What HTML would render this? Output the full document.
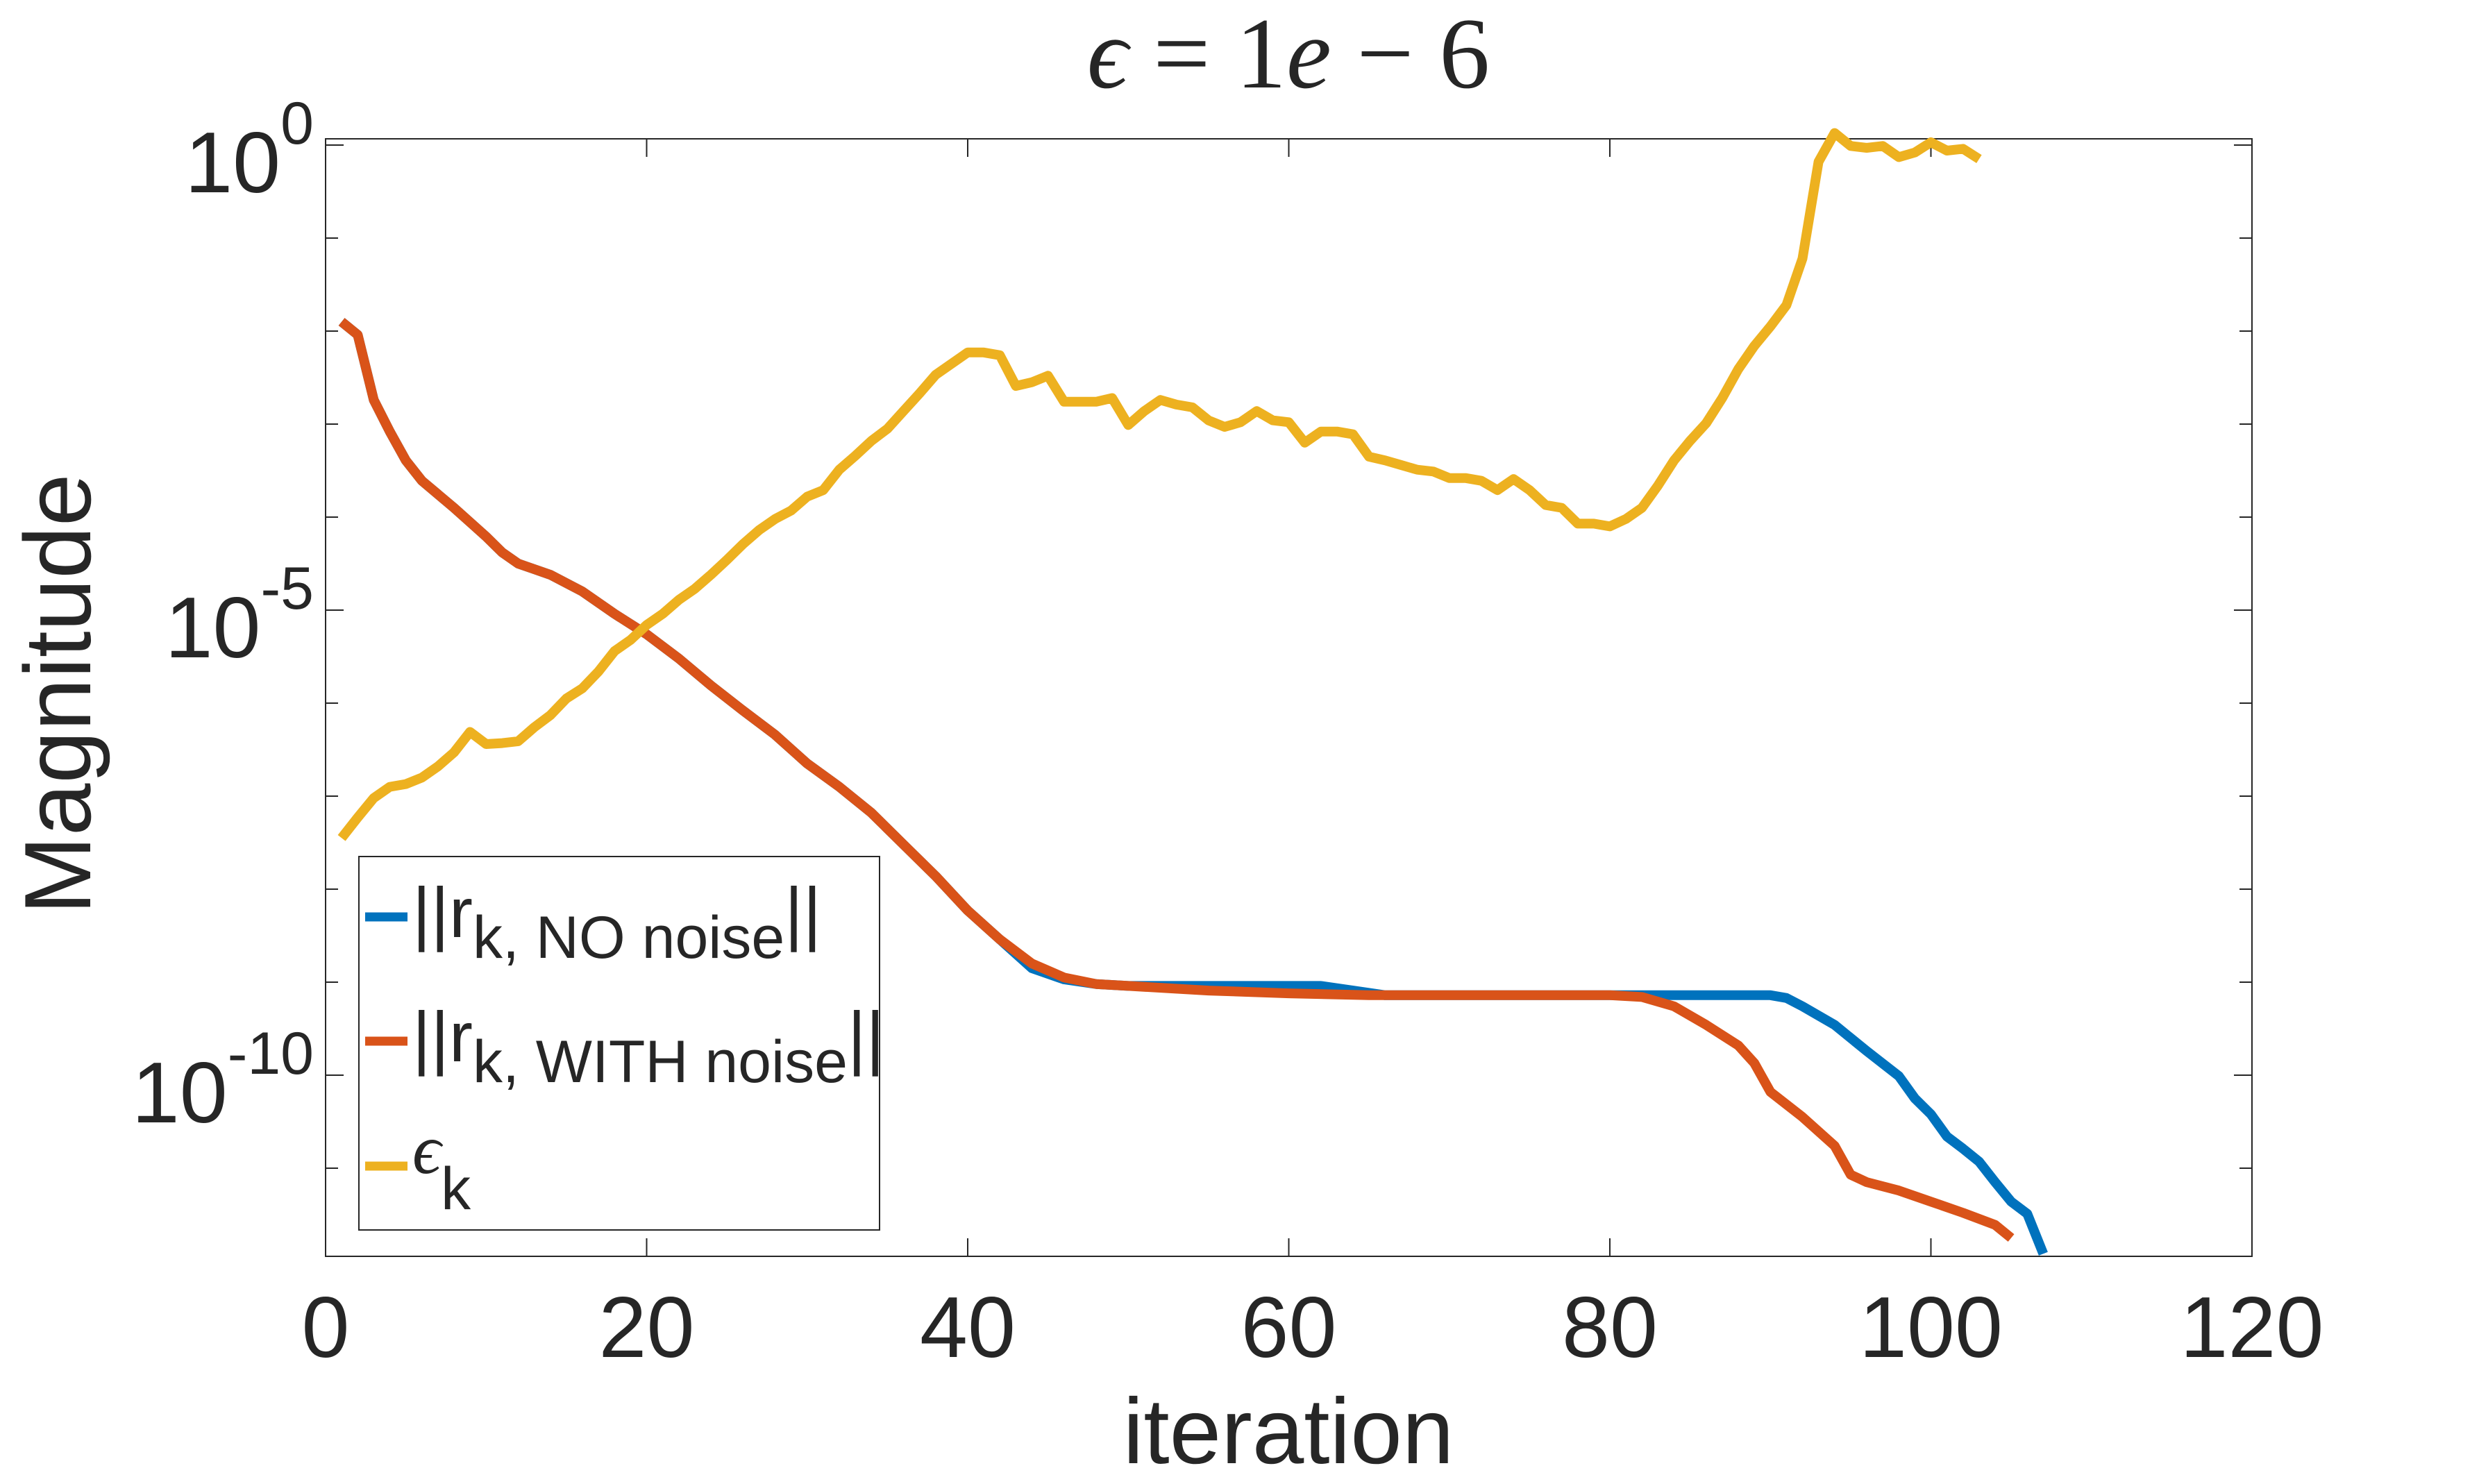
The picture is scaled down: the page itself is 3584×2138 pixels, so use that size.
<!DOCTYPE html>
<html><head><meta charset="utf-8"><style>
html,body{margin:0;padding:0;background:#fff}
svg{display:block}
text{font-family:"Liberation Sans",Helvetica,sans-serif;fill:#262626}
</style></head><body>
<svg id="chart" width="3584" height="2138" viewBox="0 0 3584 2138" xmlns="http://www.w3.org/2000/svg">
<text x="1856" y="126" text-anchor="middle" style="font-family:'Liberation Serif',serif;font-size:146px"><tspan font-style="italic">ϵ</tspan> = 1<tspan font-style="italic">e</tspan> − 6</text>
<g id="plot"></g>
<text x="1856" y="2108" text-anchor="middle" font-size="134">iteration</text>
<text transform="translate(130,1000) rotate(-90)" text-anchor="middle" font-size="136">Magnitude</text>
<g>
<rect x="517" y="1234" width="750" height="538" fill="#fff" stroke="#262626" stroke-width="2"/>
<line x1="526" y1="1321" x2="587" y2="1321" stroke="#0072BD" stroke-width="13"/>
<text x="594" y="1350" font-size="102">||r<tspan dy="30" font-size="86">k, NO noise</tspan><tspan dy="-30" font-size="102">||</tspan></text>
<line x1="526" y1="1500" x2="587" y2="1500" stroke="#D95319" stroke-width="13"/>
<text x="594" y="1529" font-size="102">||r<tspan dy="30" font-size="86">k, WITH noise</tspan><tspan dy="-30" font-size="102">||</tspan></text>
<line x1="526" y1="1680" x2="587" y2="1680" stroke="#EDB120" stroke-width="13"/>
<text x="594" y="1690" font-size="102" style="font-family:'Liberation Serif',serif;font-style:italic">ϵ<tspan dy="52" font-size="86" style="font-family:'Liberation Sans',sans-serif;font-style:normal">k</tspan></text>
</g>
</svg>
<script>
// Data: log10 magnitudes
const xTicks = [0,20,40,60,80,100,120];
const yTickExps = [0,-1,-2,-3,-4,-5,-6,-7,-8,-9,-10,-11];
const yLabelExps = [0,-5,-10];
const withNoiseX = [1,2,3,4,5,6,8,10,11,12,14,16,18,20,22,24,26,28,30,32,34,36,38,40,42,44,46,48,50,55,60,65,70,75,80,82,84,86,88,89,90,92,94,95,96,98,100,102,104,105];
const withNoiseExp = [-1.90,-2.04,-2.74,-3.08,-3.39,-3.61,-3.90,-4.21,-4.38,-4.50,-4.62,-4.80,-5.04,-5.26,-5.52,-5.81,-6.08,-6.34,-6.65,-6.90,-7.18,-7.52,-7.86,-8.23,-8.54,-8.80,-8.95,-9.02,-9.04,-9.09,-9.12,-9.14,-9.14,-9.14,-9.14,-9.16,-9.26,-9.46,-9.68,-9.87,-10.18,-10.45,-10.76,-11.07,-11.15,-11.24,-11.36,-11.48,-11.61,-11.75];
const noNoiseX = [1,2,3,4,5,6,8,10,11,12,14,16,18,20,22,24,26,28,30,32,34,36,38,40,42,44,46,48,50,62,64,66,90,91,92,94,96,98,99,100,101,102,103,104,105,106,107];
const noNoiseExp = [-1.90,-2.04,-2.74,-3.08,-3.39,-3.61,-3.90,-4.21,-4.38,-4.50,-4.62,-4.80,-5.04,-5.26,-5.52,-5.81,-6.08,-6.34,-6.65,-6.90,-7.18,-7.52,-7.86,-8.23,-8.54,-8.85,-8.97,-9.02,-9.04,-9.04,-9.09,-9.14,-9.14,-9.17,-9.26,-9.46,-9.74,-10.01,-10.25,-10.42,-10.66,-10.79,-10.93,-11.15,-11.36,-11.49,-11.92];
const epsExp = [-7.45,-7.23,-7.02,-6.90,-6.87,-6.80,-6.68,-6.53,-6.31,-6.44,-6.43,-6.41,-6.26,-6.13,-5.95,-5.84,-5.66,-5.44,-5.32,-5.16,-5.04,-4.89,-4.77,-4.62,-4.46,-4.29,-4.14,-4.02,-3.93,-3.78,-3.71,-3.49,-3.34,-3.18,-3.05,-2.86,-2.67,-2.47,-2.35,-2.23,-2.23,-2.26,-2.59,-2.55,-2.48,-2.76,-2.76,-2.76,-2.72,-3.01,-2.86,-2.74,-2.79,-2.82,-2.96,-3.03,-2.98,-2.86,-2.96,-2.98,-3.20,-3.08,-3.08,-3.11,-3.35,-3.39,-3.44,-3.49,-3.51,-3.58,-3.58,-3.61,-3.71,-3.59,-3.71,-3.87,-3.90,-4.07,-4.07,-4.10,-4.02,-3.90,-3.66,-3.39,-3.18,-2.99,-2.72,-2.41,-2.16,-1.95,-1.72,-1.22,-0.18,0.13,-0.01,-0.03,-0.01,-0.13,-0.08,0.03,-0.06,-0.04,-0.15];

const L=469,R=3244,T=200,B=1810;
const sx = v => L + (v-0)/(120-0)*(R-L);
const sy = e => 209 - e*134;
const NS='http://www.w3.org/2000/svg';
const plot=document.getElementById('plot');
function mk(tag,attrs){const el=document.createElementNS(NS,tag);for(const k in attrs)el.setAttribute(k,attrs[k]);return el;}

const frame=mk('rect',{x:L,y:T,width:R-L,height:B-T,fill:'none',stroke:'#262626','stroke-width':2});


plot.appendChild(frame);

xTicks.forEach(v=>{
  const x=sx(v);
  const t1=mk('line',{x1:x,y1:B,x2:x,y2:B-26,stroke:'#262626','stroke-width':2});
  
  
  plot.appendChild(t1);
  const t2=mk('line',{x1:x,y1:T,x2:x,y2:T+26,stroke:'#262626','stroke-width':2});
  
  
  plot.appendChild(t2);
  const lb=mk('text',{x:x,y:1955,'text-anchor':'middle','font-size':124});
  lb.textContent=String(v);
  
  
  plot.appendChild(lb);
});
yTickExps.forEach(e=>{
  const y=sy(e);
  const len = (e%5===0)?26:18;
  const t1=mk('line',{x1:L,y1:y,x2:L+len,y2:y,stroke:'#262626','stroke-width':2});
  
  
  plot.appendChild(t1);
  const t2=mk('line',{x1:R,y1:y,x2:R-len,y2:y,stroke:'#262626','stroke-width':2});
  
  
  plot.appendChild(t2);
});
yLabelExps.forEach(e=>{
  const y=sy(e);
  const lb=mk('text',{x:452,y:y+68,'text-anchor':'end','font-size':124});
  lb.innerHTML='10<tspan dy="-70" font-size="86">'+e+'</tspan>';
  
  
  plot.appendChild(lb);
});
function series(xs,ys,color,name){
  const d=xs.map((x,i)=>(i?'L':'M')+sx(x).toFixed(1)+' '+sy(ys[i]).toFixed(1)).join(' ');
  const p=mk('path',{d:d,fill:'none',stroke:color,'stroke-width':14,'stroke-linejoin':'round'});
  
  
  plot.appendChild(p);
}
series(noNoiseX,noNoiseExp,'#0072BD','line-no-noise');
series(withNoiseX,withNoiseExp,'#D95319','line-with-noise');
series(epsExp.map((_,i)=>i+1),epsExp,'#EDB120','line-eps');
</script>
</body></html>
